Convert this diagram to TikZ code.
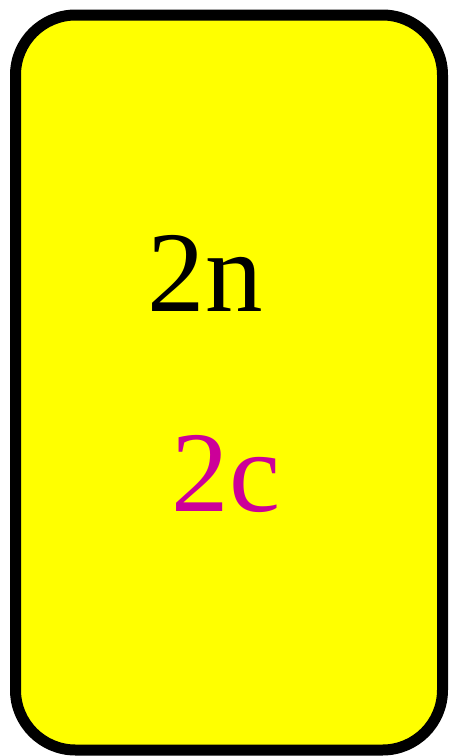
\documentclass[tikz,border=0pt]{standalone}
\usepackage{fontspec}
\setmainfont{Liberation Serif}
\usepackage{tikz}
\definecolor{cardc}{RGB}{255,255,0}
\definecolor{mc}{RGB}{204,0,153}
\tikzset{card/.style={draw,fill=cardc,line width=11pt,rounded corners=60pt,minimum width=427pt,minimum height=735pt,inner sep=0pt},
 lbl/.style={anchor=base,inner sep=0pt,font=\fontsize{115}{115}\selectfont},
 mlbl/.style={lbl,text=mc}}

\begin{document}
\begin{tikzpicture}[x=1pt,y=-1pt]
\useasboundingbox (0,0) rectangle (450,756);
\node[card] (card) at (229,382.5) {};
\node[lbl] (n) at (205,311) {2n};\node[mlbl] (c) at (226,511) {2c};
\end{tikzpicture}
\end{document}
